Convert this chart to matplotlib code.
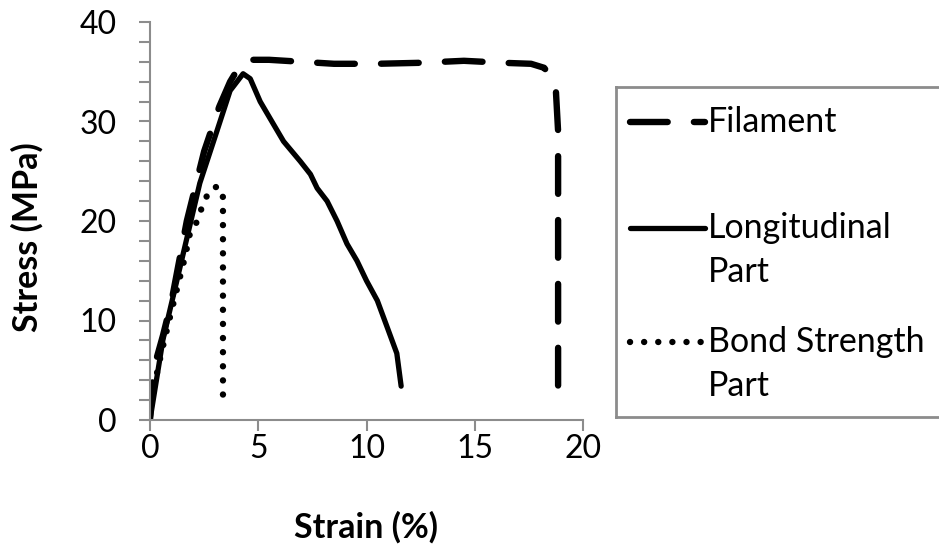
import matplotlib
matplotlib.use('Agg')
import matplotlib.pyplot as plt
from matplotlib.ticker import MultipleLocator

plt.rcParams['font.family'] = ['Lato', 'DejaVu Sans']

# --- data ---
fil_strain = [0.0, 0.15, 0.6, 1.0, 1.7, 2.5, 3.2, 3.7, 4.2, 4.6, 5.5, 7.0, 8.5, 10.5, 12.5, 14.5, 16.3, 17.6, 18.2, 18.55, 18.75, 18.85, 18.85]
fil_stress = [0.0, 5.0, 8.5, 12.0, 20.0, 27.0, 31.5, 34.0, 35.8, 36.2, 36.2, 36.0, 35.8, 35.8, 35.9, 36.1, 35.9, 35.8, 35.4, 34.5, 33.0, 29.0, 2.9]

long_strain = [0.0, 0.6, 1.5, 2.3, 3.1, 3.7, 4.3, 4.63, 5.09, 5.71, 6.17, 6.94, 7.41, 7.72, 8.18, 8.64, 9.1, 9.56, 10.0, 10.5, 10.96, 11.4, 11.6]
long_stress = [0.0, 8.1, 16.4, 23.8, 29.1, 33.1, 34.8, 34.3, 32.0, 29.7, 28.0, 26.0, 24.7, 23.3, 22.0, 20.0, 17.7, 16.0, 14.0, 12.0, 9.3, 6.7, 3.4]

bond_strain = [0.05, 0.5, 0.93, 1.24, 1.62, 1.85, 2.16, 2.5, 2.8, 3.15, 3.37, 3.37]
bond_stress = [2.0, 6.5, 10.4, 13.1, 16.4, 18.8, 19.9, 22.0, 23.2, 23.5, 22.4, 1.9]

labels = ['Filament', 'Longitudinal', 'Bond Strength']
label_second = ['', 'Part', 'Part']

axis_grey = '#8c8c8c'

fig = plt.figure(figsize=(9.39, 5.46), dpi=100)
ax = fig.add_axes([150 / 939, 1 - 420 / 546, 433 / 939, 398 / 546])

fil_style = dict(color='black', lw=4.6, dashes=(5.9, 4.1), dash_capstyle='round', solid_capstyle='round')
long_style = dict(color='black', lw=3.8, solid_capstyle='round', solid_joinstyle='round')
bond_style = dict(color='black', lw=4.6, dashes=(0.01, 2.2), dash_capstyle='round')

ax.plot(fil_strain, fil_stress, **fil_style)
ax.plot(long_strain, long_stress, **long_style)
ax.plot(bond_strain, bond_stress, **bond_style)

ax.set_xlim(0, 20)
ax.set_ylim(0, 40)
ax.xaxis.set_major_locator(MultipleLocator(5))
ax.yaxis.set_major_locator(MultipleLocator(10))
ax.yaxis.set_minor_locator(MultipleLocator(2))

for side in ['top', 'right']:
    ax.spines[side].set_visible(False)
for side in ['left', 'bottom']:
    ax.spines[side].set_color(axis_grey)
    ax.spines[side].set_linewidth(1.5)

ax.tick_params(axis='both', which='both', direction='out', length=8, width=1.5,
               color=axis_grey, labelsize=23, labelcolor='black')
ax.tick_params(axis='y', which='major', pad=16)
ax.tick_params(axis='x', which='major', pad=2)

ax.set_xlabel('Strain (%)', fontsize=24.5, fontweight='bold')
ax.set_ylabel('Stress (MPa)', fontsize=24.5, fontweight='bold')
ax.xaxis.set_label_coords(0.5, -0.228)
ax.yaxis.set_label_coords(-0.245, 0.46)

# --- legend box, drawn by hand to copy the Excel layout ---
lax = fig.add_axes([616 / 939, 1 - 417 / 546, 340 / 939, 330 / 546])
lax.set_xlim(0, 340)
lax.set_ylim(330, 0)
lax.set_xticks([])
lax.set_yticks([])
for s in lax.spines.values():
    s.set_color(axis_grey)
    s.set_linewidth(2)

row_y = [35, 141, 255]
styles = [fil_style, long_style, bond_style]
for y, st, lab, lab2 in zip(row_y, styles, labels, label_second):
    lax.plot([14, 89], [y, y], **st)
    lax.text(92, y, lab, fontsize=24.5, va='center', ha='left')
    if lab2:
        lax.text(92, y + 44, lab2, fontsize=24.5, va='center', ha='left')

fig.savefig('out.png', dpi=100)
